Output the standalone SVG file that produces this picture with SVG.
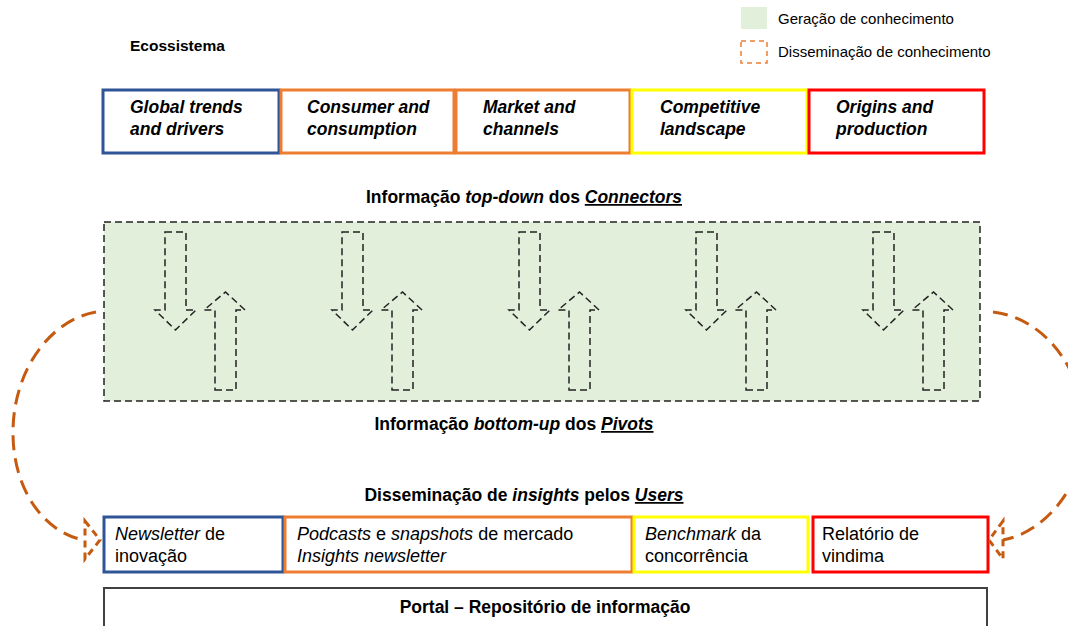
<svg xmlns="http://www.w3.org/2000/svg" width="1068" height="626" viewBox="0 0 1068 626">
<style>
text{font-family:"Liberation Sans",Arial,sans-serif;fill:#000}
.hd{font-weight:bold;font-size:17.5px}
.tb{font-weight:bold;font-style:italic;font-size:17.5px}
.bb{font-size:18px}
.lg{font-size:15px}
.box{fill:#fff;stroke-width:3}
.arr{fill:none;stroke:#222;stroke-width:1.5;stroke-dasharray:7 4}
.flow{fill:none;stroke:#c55a11;stroke-width:3;stroke-dasharray:15 8}
</style>
<defs>
<path id="dn" class="arr" d="M165,232 H186 V310 H196 L175.5,330 L155,310 H165 Z"/>
<path id="up" class="arr" d="M215,390 H236 V310 H245 L225.5,292 L204,310 H215 Z"/>
</defs>
<rect width="1068" height="626" fill="#fff"/>
<g id="legend">
<rect x="741" y="7" width="26" height="22" fill="#e2efda"/>
<text class="lg" x="778" y="24">Geração de conhecimento</text>
<rect x="741" y="41" width="26" height="22" fill="none" stroke="#ed7d31" stroke-width="1.5" stroke-dasharray="5 4"/>
<text class="lg" x="778" y="57">Disseminação de conhecimento</text>
</g>
<g id="title"><text x="130" y="51" font-weight="bold" font-size="15.5">Ecossistema</text></g>
<g id="n-global"><rect class="box" x="103" y="90" width="176" height="63" stroke="#2f5597"/><text class="tb" x="130" y="113">Global trends</text><text class="tb" x="130" y="135">and drivers</text></g>
<g id="n-consumer"><rect class="box" x="281" y="90" width="173" height="63" stroke="#ed7d31"/><text class="tb" x="307" y="113">Consumer and</text><text class="tb" x="307" y="135">consumption</text></g>
<g id="n-market"><rect class="box" x="456" y="90" width="174" height="63" stroke="#ed7d31"/><text class="tb" x="483" y="113">Market and</text><text class="tb" x="483" y="135">channels</text></g>
<g id="n-competitive"><rect class="box" x="632" y="90" width="175" height="63" stroke="#ffff00"/><text class="tb" x="660" y="113">Competitive</text><text class="tb" x="660" y="135">landscape</text></g>
<g id="n-origins"><rect class="box" x="809" y="90" width="175" height="63" stroke="#ff0000"/><text class="tb" x="836" y="113">Origins and</text><text class="tb" x="836" y="135">production</text></g>
<g id="lbl-topdown"><text class="hd" x="524" y="203" text-anchor="middle">Informação <tspan font-style="italic">top-down</tspan> dos <tspan font-style="italic" text-decoration="underline">Connectors</tspan></text></g>
<g id="n-generation">
<rect x="104" y="222" width="876" height="179" fill="#e2efda" stroke="#222" stroke-width="1.5" stroke-dasharray="7 4"/>
<use href="#dn"/><use href="#up"/>
<use href="#dn" x="177"/><use href="#up" x="177"/>
<use href="#dn" x="354"/><use href="#up" x="354"/>
<use href="#dn" x="531"/><use href="#up" x="531"/>
<use href="#dn" x="708"/><use href="#up" x="708"/>
</g>
<g id="lbl-bottomup"><text class="hd" x="514" y="430" text-anchor="middle">Informação <tspan font-style="italic">bottom-up</tspan> dos <tspan font-style="italic" text-decoration="underline">Pivots</tspan></text></g>
<g id="lbl-users"><text class="hd" x="524" y="501" text-anchor="middle">Disseminação de <tspan font-style="italic">insights</tspan> pelos <tspan font-style="italic" text-decoration="underline">Users</tspan></text></g>
<g id="n-newsletter"><rect class="box" x="104" y="517" width="179" height="55" stroke="#2f5597" stroke-width="2"/><text class="bb" x="115" y="540"><tspan font-style="italic">Newsletter</tspan> de</text><text class="bb" x="115" y="562">inovação</text></g>
<g id="n-podcasts"><rect class="box" x="285" y="517" width="347" height="55" stroke="#ed7d31" stroke-width="2"/><text class="bb" x="297" y="540"><tspan font-style="italic">Podcasts</tspan> e <tspan font-style="italic">snapshots</tspan> de mercado</text><text class="bb" x="297" y="562" font-style="italic">Insights newsletter</text></g>
<g id="n-benchmark"><rect class="box" x="634" y="517" width="174" height="55" stroke="#ffff00" stroke-width="2"/><text class="bb" x="645" y="540"><tspan font-style="italic">Benchmark</tspan> da</text><text class="bb" x="645" y="562">concorrência</text></g>
<g id="n-vindima"><rect class="box" x="813" y="517" width="175" height="55" stroke="#ff0000" stroke-width="2"/><text class="bb" x="822" y="540">Relatório de</text><text class="bb" x="822" y="562">vindima</text></g>
<g id="n-portal"><rect x="104" y="588" width="883" height="50" fill="#fff" stroke="#404040" stroke-width="2"/><text class="hd" x="545" y="613" text-anchor="middle">Portal – Repositório de informação</text></g>
<g id="connectors">
<path class="flow" d="M96,312 C50,320 14,370 13,430 C12,490 45,533 84,540"/>
<path class="flow" style="stroke-dasharray:7 5" d="M85,521 L100,540 L85,559 Z"/>
<path class="flow" d="M993,312 C1045,318 1084,370 1084,430 C1084,490 1042,533 1003,540"/>
<path class="flow" style="stroke-dasharray:7 5" d="M1003,521 L989,540 L1003,559 Z"/>
</g>
</svg>
